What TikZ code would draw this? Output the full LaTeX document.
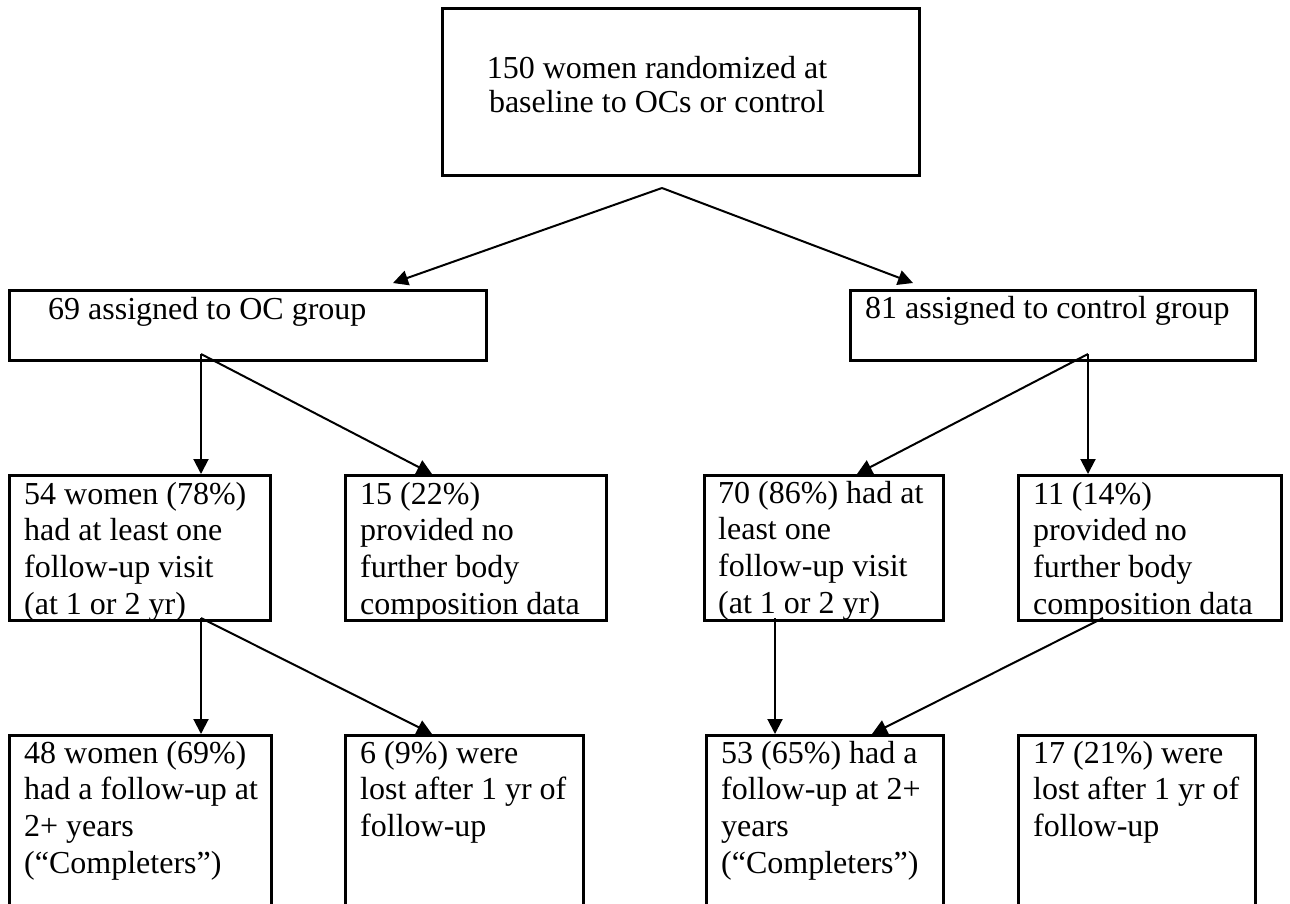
\documentclass[tikz,border=0pt]{standalone}
\usepackage{fontspec}
\setmainfont{Liberation Serif}
\usetikzlibrary{arrows.meta,calc}
\begin{document}
\begin{tikzpicture}[x=1pt,y=-1pt,
  box/.style={draw, line width=2.6pt, inner sep=0pt, anchor=north west},
  txt/.style={inner sep=0pt, anchor=north west, align=left, font=\fontsize{32}{36.7}\selectfont},
  arr/.style={line width=2pt, -{Triangle[length=15pt,width=15pt]}}]
\useasboundingbox (0,0) rectangle (1290,903);
\clip (0,0) rectangle (1290,903);
% boxes
\node[box, minimum width=477.4pt, minimum height=167.4pt] (T)  at (441,7) {};
\node[box, minimum width=477.4pt, minimum height=70.4pt]  (L2) at (8,289) {};
\node[box, minimum width=405.4pt, minimum height=70.4pt]  (R2) at (849,289) {};
\node[box, minimum width=261.4pt, minimum height=145.4pt] (A)  at (8,474) {};
\node[box, minimum width=261.4pt, minimum height=145.4pt] (B)  at (344,474) {};
\node[box, minimum width=239.4pt, minimum height=145.4pt] (C)  at (703,474) {};
\node[box, minimum width=263.4pt, minimum height=145.4pt] (D)  at (1017,474) {};
\node[box, minimum width=262.4pt, minimum height=200pt]   (E)  at (8,734) {};
\node[box, minimum width=238.4pt, minimum height=200pt]   (F)  at (344,734) {};
\node[box, minimum width=237.4pt, minimum height=200pt]   (G)  at (705,734) {};
\node[box, minimum width=237.4pt, minimum height=200pt]   (H)  at (1017,734) {};
% texts
\node[txt, anchor=north, align=center, font=\fontsize{32}{34}\selectfont] (tT) at (657,54.2)
  {\strut 150 women randomized at\\ baseline to OCs or control};
\node[txt] (tL2) at (48,293.3) {\strut 69 assigned to OC group};
\node[txt] (tR2) at (865,292.3) {\strut 81 assigned to control group};
\node[txt] (tA) at (24,478.3) {\strut 54 women (78\%)\\ had at least one\\ follow-up visit\\ (at 1 or 2 yr)};
\node[txt] (tB) at (360,478.3) {\strut 15 (22\%)\\ provided no\\ further body\\ composition data};
\node[txt] (tC) at (718,477.3) {\strut 70 (86\%) had at\\ least one\\ follow-up visit\\ (at 1 or 2 yr)};
\node[txt] (tD) at (1033,478.3) {\strut 11 (14\%)\\ provided no\\ further body\\ composition data};
\node[txt] (tE) at (24,737.3) {\strut 48 women (69\%)\\ had a follow-up at\\ 2+ years\\ (“Completers”)};
\node[txt] (tF) at (360,737.3) {\strut 6 (9\%) were\\ lost after 1 yr of\\ follow-up};
\node[txt] (tG) at (721,737.3) {\strut 53 (65\%) had a\\ follow-up at 2+\\ years\\ (“Completers”)};
\node[txt] (tH) at (1033,737.3) {\strut 17 (21\%) were\\ lost after 1 yr of\\ follow-up};
% connector origins
\coordinate (tapex) at (662,188);
\coordinate (l2o) at (201,354);
\coordinate (r2o) at (1088,354);
\coordinate (ao) at (201,618);
\coordinate (co) at (775,618);
\coordinate (do) at (1103,618);
% connectors
\draw[arr] (tapex) -- ($(L2.north west)+(385,-6)$);
\draw[arr] (tapex) -- ($(R2.north west)+(64,-6)$);
\draw[arr] (l2o) -- (A.north -| l2o);
\draw[arr] (l2o) -- ($(B.north west)+(88,0)$);
\draw[arr] (r2o) -- (D.north -| r2o);
\draw[arr] (r2o) -- ($(C.north west)+(154,0)$);
\draw[arr] (ao) -- (E.north -| ao);
\draw[arr] (ao) -- ($(F.north west)+(88,0)$);
\draw[arr] (co) -- (G.north -| co);
\draw[arr] (do) -- ($(G.north west)+(167,0)$);
\end{tikzpicture}
\end{document}
